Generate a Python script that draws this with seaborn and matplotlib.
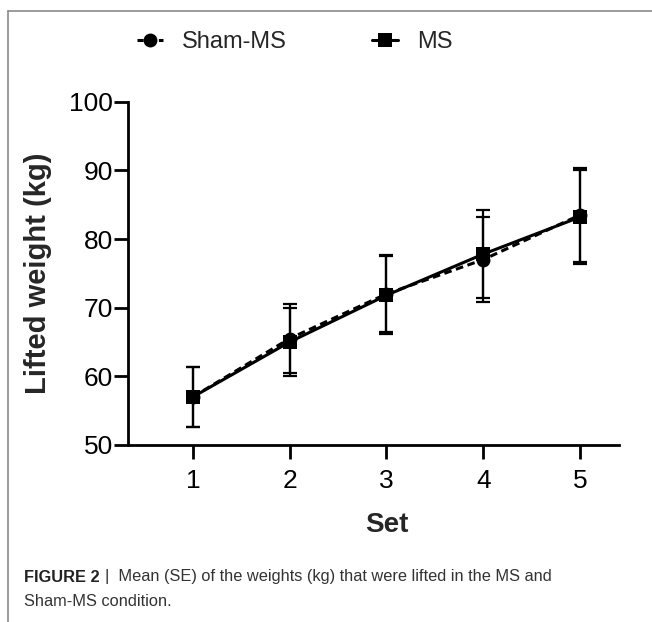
import matplotlib
matplotlib.use("Agg")
import matplotlib.pyplot as plt
from matplotlib.lines import Line2D
import numpy as np
import pandas as pd
import seaborn as sns

sets = [1, 2, 3, 4, 5]
sham_mean = [57.0, 65.5, 72.0, 77.0, 83.5]
sham_se = [4.4, 5.0, 5.6, 6.2, 6.9]
ms_mean = [57.0, 65.0, 71.8, 77.8, 83.2]
ms_se = [4.4, 4.9, 5.7, 6.4, 6.9]

df = pd.DataFrame({
    "Set": sets * 2,
    "Weight": sham_mean + ms_mean,
    "SE": sham_se + ms_se,
    "Condition": ["Sham-MS"] * 5 + ["MS"] * 5,
})

sns.set_style("ticks")
plt.rcParams['font.family'] = ['Liberation Sans', 'DejaVu Sans']

fig = plt.figure(figsize=(6.52, 6.22), dpi=100)
ax = fig.add_axes([0.1963, 0.2846, 0.7527, 0.5519])

sns.lineplot(data=df, x="Set", y="Weight", hue="Condition", style="Condition",
             palette={"Sham-MS": "black", "MS": "black"},
             dashes={"Sham-MS": (2.5, 1.5), "MS": ""},
             markers={"Sham-MS": "o", "MS": "s"},
             markersize=10, linewidth=2.2, markeredgewidth=0,
             ax=ax, legend=False)

for cond in ["Sham-MS", "MS"]:
    sub = df[df["Condition"] == cond]
    ax.errorbar(sub["Set"], sub["Weight"], yerr=sub["SE"], fmt="none",
                ecolor="black", elinewidth=1.6, capsize=5, capthick=1.6)

ax.set_xlim(0.33, 5.40)
ax.set_ylim(50, 100)
ax.set_xticks(sets)
ax.set_yticks([50, 60, 70, 80, 90, 100])
ax.tick_params(axis="both", labelsize=19, length=10, width=2, colors="black")
ax.tick_params(axis="x", pad=7)
ax.tick_params(axis="y", pad=1)
for s in ["top", "right"]:
    ax.spines[s].set_visible(False)
for s in ["left", "bottom"]:
    ax.spines[s].set_linewidth(2)
    ax.spines[s].set_color("black")
ax.set_xlabel("Set", fontsize=20, fontweight="bold")
ax.set_ylabel("Lifted weight (kg)", fontsize=21, fontweight="bold")
# x label sits under the middle set, y label at the axis middle
ax.xaxis.set_label_coords((3 - 0.33) / (5.40 - 0.33), -0.195)
ax.yaxis.set_label_coords(-0.155, 0.5)

handles = [
    Line2D([], [], color="black", linestyle=(0, (2.0, 1.5)), marker="o",
           markersize=10, linewidth=2.2, markeredgewidth=0),
    Line2D([], [], color="black", linestyle="-", marker="s",
           markersize=10, linewidth=2.2, markeredgewidth=0),
]
fig.legend(handles, ["Sham-MS", "MS"], loc="center", bbox_to_anchor=(0.452, 0.9325),
           ncol=2, frameon=False, fontsize=17,
           handlelength=1.1, columnspacing=3.6, handletextpad=0.8)

# page frame lines (top and left)
fig.add_artist(Line2D([8 / 652, 8 / 652], [0, 1 - 11 / 622], color="#8a8a8a", lw=1.2))
fig.add_artist(Line2D([8 / 652, 1], [1 - 11 / 622, 1 - 11 / 622], color="#8a8a8a", lw=1.2))

t = fig.text(0.037, 1 - 577 / 622, "FIGURE 2", fontweight="bold",
             fontsize=11.8, color="#222222", va="center", ha="left")
fig.canvas.draw()
bb = t.get_window_extent().transformed(fig.transFigure.inverted())
fig.text(bb.x1 + 0.008, 1 - 577 / 622, "|  Mean (SE) of the weights (kg) that were lifted in the MS and",
         fontsize=11.8, color="#333333", va="center", ha="left")
fig.text(0.037, 1 - 601 / 622, "Sham-MS condition.",
         fontsize=11.8, color="#333333", va="center", ha="left")

plt.savefig("out.png", dpi=100)
